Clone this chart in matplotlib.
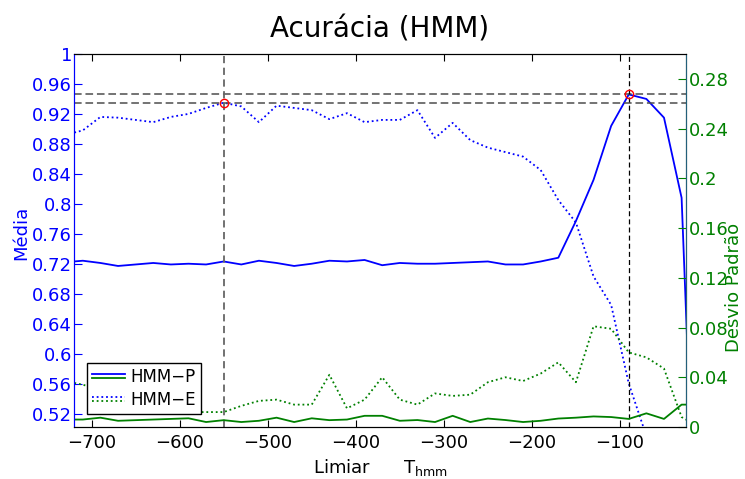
import numpy as np
import matplotlib.pyplot as plt
from matplotlib.lines import Line2D
from matplotlib.legend_handler import HandlerBase
from matplotlib.ticker import FuncFormatter

# thresholds T_hmm
limiar = np.arange(-730, 0, 20)

# HMM-P / HMM-E mean accuracy (left axis)
media_p = [0.722, 0.724, 0.721, 0.717, 0.719, 0.721, 0.719, 0.720, 0.719, 0.723,
           0.719, 0.724, 0.721, 0.717, 0.720, 0.724, 0.723, 0.725, 0.718, 0.721,
           0.720, 0.720, 0.721, 0.722, 0.723, 0.719, 0.719, 0.723, 0.728, 0.777,
           0.832, 0.904, 0.946, 0.940, 0.915, 0.808, 0.200]
media_e = [0.892, 0.898, 0.916, 0.915, 0.912, 0.909, 0.916, 0.920, 0.928, 0.935,
           0.930, 0.909, 0.931, 0.928, 0.925, 0.913, 0.921, 0.909, 0.912, 0.912,
           0.925, 0.888, 0.908, 0.885, 0.875, 0.869, 0.863, 0.845, 0.805, 0.775,
           0.703, 0.665, 0.560, 0.490, 0.420, 0.360, 0.300]

# standard deviation (right axis)
desvio_p = [0.006, 0.006, 0.0075, 0.005, 0.0055, 0.006, 0.0065, 0.007, 0.004, 0.0055,
            0.004, 0.005, 0.0075, 0.004, 0.007, 0.0055, 0.006, 0.009, 0.009, 0.005,
            0.0056, 0.004, 0.009, 0.004, 0.0068, 0.0056, 0.004, 0.005, 0.0068, 0.0075,
            0.0085, 0.008, 0.0065, 0.011, 0.0065, 0.018, 0.018]
desvio_e = [0.037, 0.034, 0.030, 0.025, 0.020, 0.016, 0.013, 0.012, 0.012, 0.012,
            0.017, 0.021, 0.022, 0.018, 0.018, 0.042, 0.015, 0.022, 0.040, 0.022,
            0.018, 0.027, 0.025, 0.026, 0.036, 0.040, 0.037, 0.043, 0.052, 0.036,
            0.081, 0.079, 0.060, 0.056, 0.047, 0.008, 0.000]

best_p = int(np.argmax(media_p))
best_e = int(np.argmax(media_e))


class PairHandler(HandlerBase):
    # draws the blue and green line of an entry slightly apart
    def create_artists(self, legend, orig_handle, xdescent, ydescent,
                       width, height, fontsize, trans):
        arts = []
        for i, h in enumerate(orig_handle):
            y = height / 2 - ydescent + 1.4 - 2.8 * i
            ln = Line2D([-xdescent, width - xdescent], [y, y])
            ln.update_from(h)
            ln.set_transform(trans)
            arts.append(ln)
        return arts


fig = plt.figure(figsize=(7.45, 4.79), dpi=100)
ax1 = fig.add_axes([74 / 745, 1 - 427 / 479, 612 / 745, 373 / 479])
ax2 = ax1.twinx()

dots = (0, (1, 1.6))
lp1, = ax1.plot(limiar, media_p, color='b', lw=1.3)
le1, = ax1.plot(limiar, media_e, color='b', lw=1.3, linestyle=dots)
lp2, = ax2.plot(limiar, desvio_p, color='g', lw=1.3)
le2, = ax2.plot(limiar, desvio_e, color='g', lw=1.3, linestyle=dots)

# best thresholds
ax1.axhline(media_p[best_p], color='0.3', lw=1.1, dashes=(5, 2.5))
ax1.axhline(media_e[best_e], color='0.3', lw=1.1, dashes=(5, 2.5))
ax1.axvline(limiar[best_e], color='0.4', lw=1.3, dashes=(4, 2.5))
ax1.axvline(limiar[best_p], color='k', lw=0.9, dashes=(4, 2.5))
ax1.plot(limiar[best_e], media_e[best_e], 'o', mfc='none', mec='r', ms=6, mew=1)
ax1.plot(limiar[best_p], media_p[best_p], 'o', mfc='none', mec='r', ms=6, mew=1)

ax1.set_xlim(-720, -25)
ax1.set_ylim(0.502, 1.0)
ax2.set_ylim(0, 0.3)

ax1.set_xticks(np.arange(-700, 0, 100))
ax1.set_yticks(np.arange(0.52, 1.001, 0.04))
ax2.set_yticks(np.arange(0, 0.281, 0.04))
ax1.yaxis.set_major_formatter(FuncFormatter(lambda v, p: '%g' % round(v, 2)))
ax2.yaxis.set_major_formatter(FuncFormatter(lambda v, p: '%g' % round(v, 2)))

ax1.tick_params(axis='x', direction='in', top=True, length=5, labelsize=13, pad=5)
ax1.tick_params(axis='y', direction='in', colors='b', length=6, labelsize=13, pad=1.5)
ax2.tick_params(axis='y', direction='in', colors='g', length=6, labelsize=13, pad=2)

ax1.spines['left'].set_color('b')
ax2.spines['left'].set_color('b')
ax2.spines['right'].set_color('#22607a')

ax1.set_title('Acurácia (HMM)', fontsize=20, pad=12)
ax1.set_xlabel(r'Limiar      T$_{\mathregular{hmm}}$', fontsize=13)
ax1.set_ylabel('Média', color='b', fontsize=13)
ax2.set_ylabel('Desvio Padrão', color='g', fontsize=13)
ax1.yaxis.set_label_coords(-0.072, 0.52)
ax2.yaxis.set_label_coords(1.064, 0.375)

leg = ax2.legend([(lp1, lp2), (le1, le2)], ['HMM−P', 'HMM−E'],
                 handler_map={tuple: PairHandler()}, loc='lower left',
                 bbox_to_anchor=(13 / 612, 13 / 373), borderaxespad=0,
                 fancybox=False, framealpha=1, edgecolor='k', fontsize=12,
                 labelspacing=0.3, handlelength=2.0, handletextpad=0.3,
                 borderpad=0.3)
leg.get_frame().set_linewidth(1.0)

plt.savefig('out.png', dpi=100)
